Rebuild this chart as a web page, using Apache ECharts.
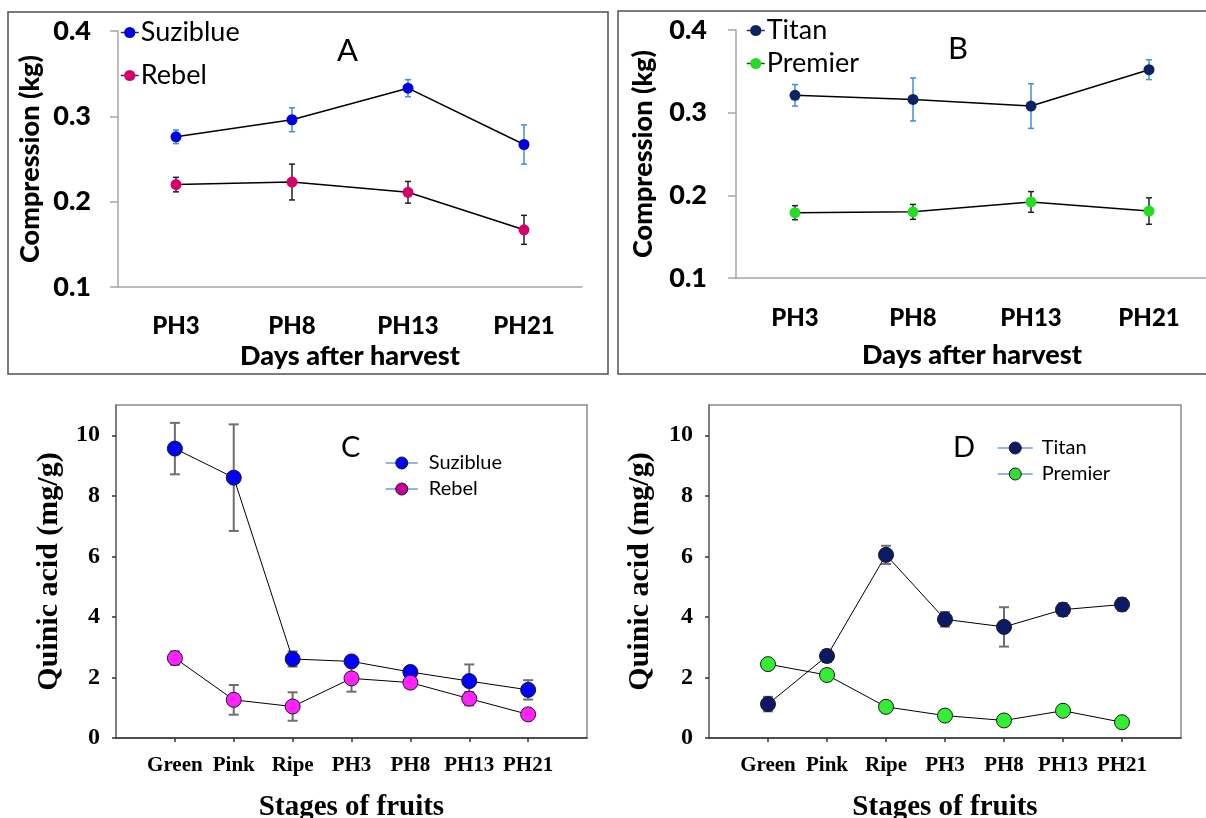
<!DOCTYPE html>
<html>
<head>
<meta charset="utf-8">
<title>Compression and quinic acid</title>
<script src="https://cdn.jsdelivr.net/npm/echarts@6/dist/echarts.min.js"></script>
<style>
  html, body { margin: 0; padding: 0; background: #fff; }
  #chart { width: 1206px; height: 818px; }
</style>
</head>
<body>
<div id="chart"></div>
<script>
// 采后天数 (A, B)
const daysCats = ['PH3', 'PH8', 'PH13', 'PH21'];
const suziComp = [0.276, 0.296, 0.333, 0.267];
const suziCompErr = [0.008, 0.014, 0.010, 0.023];
const rebelComp = [0.220, 0.223, 0.211, 0.167];
const rebelCompErr = [0.0085, 0.021, 0.0127, 0.017];
const titanComp = [0.321, 0.316, 0.308, 0.352];
const titanCompErr = [0.013, 0.026, 0.027, 0.012];
const premierComp = [0.179, 0.180, 0.192, 0.181];
const premierCompErr = [0.0085, 0.009, 0.0125, 0.016];
const compTicks = [0.1, 0.2, 0.3, 0.4];

// 果实阶段 (C, D)
const stageCats = ['Green', 'Pink', 'Ripe', 'PH3', 'PH8', 'PH13', 'PH21'];
const suziQuinic = [9.56, 8.60, 2.61, 2.53, 2.18, 1.88, 1.59];
const suziQuinicErr = [0.85, 1.76, 0.25, 0.10, 0.08, 0.55, 0.32];
const rebelQuinic = [2.64, 1.26, 1.04, 1.97, 1.83, 1.30, 0.78];
const rebelQuinicErr = [0.22, 0.49, 0.47, 0.44, 0.08, 0.22, 0.07];
const titanQuinic = [1.12, 2.71, 6.05, 3.92, 3.67, 4.24, 4.41];
const titanQuinicErr = [0.24, 0.20, 0.30, 0.24, 0.65, 0.21, 0.20];
const premierQuinic = [2.44, 2.08, 1.03, 0.74, 0.58, 0.90, 0.52];
const premierQuinicErr = [0.07, 0.08, 0.17, 0.07, 0.08, 0.13, 0.07];
const quinicTicks = [0, 2, 4, 6, 8, 10];

const sans = 'Lato';
const serif = 'Liberation Serif';
const heavy = 900;
const stagePos = stageCats.map((c, i) => i + 1);
const dayPos = daysCats.map((c, i) => i);

// 误差线
function errBar(xi, yi, xs, vals, errs, color, width, cap) {
    return {
        type: 'custom',
        xAxisIndex: xi,
        yAxisIndex: yi,
        z: 1,
        silent: true,
        data: vals.map((v, i) => [xs[i], v, errs[i]]),
        renderItem: function (params, api) {
            const top = api.coord([api.value(0), api.value(1) + api.value(2)]);
            const bot = api.coord([api.value(0), api.value(1) - api.value(2)]);
            const st = { stroke: color, lineWidth: width };
            return {
                type: 'group',
                children: [
                    { type: 'line', shape: { x1: top[0], y1: top[1], x2: bot[0], y2: bot[1] }, style: st },
                    { type: 'line', shape: { x1: top[0] - cap, y1: top[1], x2: top[0] + cap, y2: top[1] }, style: st },
                    { type: 'line', shape: { x1: bot[0] - cap, y1: bot[1], x2: bot[0] + cap, y2: bot[1] }, style: st }
                ]
            };
        }
    };
}

function lineSeries(name, xi, yi, xs, vals, color, size, border) {
    return {
        name: name,
        type: 'line',
        xAxisIndex: xi,
        yAxisIndex: yi,
        z: 3,
        data: vals.map((v, i) => [xs[i], v]),
        symbol: 'circle',
        symbolSize: size,
        lineStyle: { color: '#000', width: border ? 1 : 1.5 },
        itemStyle: border ? { color: color, borderColor: '#1a1a1a', borderWidth: 1 } : { color: color, borderWidth: 0 },
        emphasis: { disabled: true },
        animation: false
    };
}

// A/B 坐标轴
function compX(idx, labelMargin, nameGap) {
    return {
        type: 'category', gridIndex: idx, data: daysCats,
        axisLine: { lineStyle: { color: '#a6a6a6', width: 1.5 } },
        axisTick: { length: 10, lineStyle: { color: '#a6a6a6', width: 1.5 } },
        axisLabel: { margin: labelMargin, color: '#000', fontFamily: sans, fontWeight: heavy, fontSize: 24 },
        name: 'Days after harvest', nameLocation: 'middle', nameGap: nameGap,
        nameTextStyle: { color: '#000', fontFamily: sans, fontWeight: heavy, fontSize: 27 }
    };
}
function compY(idx, labelMargin, nameGap) {
    return {
        type: 'value', gridIndex: idx, min: 0.1, max: 0.4, interval: 0.1,
        axisLine: { show: true, lineStyle: { color: '#a6a6a6', width: 1.5 } },
        axisTick: { show: true, length: 8, lineStyle: { color: '#a6a6a6', width: 1.5 } },
        splitLine: { show: false },
        axisLabel: { margin: labelMargin, color: '#000', fontFamily: sans, fontWeight: heavy, fontSize: 27,
            formatter: v => compTicks.find(t => Math.abs(t - v) < 1e-6).toFixed(1) },
        name: 'Compression (kg)', nameLocation: 'middle', nameGap: nameGap,
        nameTextStyle: { color: '#000', fontFamily: sans, fontWeight: heavy, fontSize: 27 }
    };
}
// C/D 坐标轴
function stageX(idx) {
    return {
        type: 'value', gridIndex: idx, min: 0, max: 8, interval: 1,
        splitLine: { show: false },
        axisLine: { onZero: false, lineStyle: { color: '#333', width: 1.5 } },
        axisTick: { length: 4, customValues: stagePos, lineStyle: { color: '#333', width: 1.5 } },
        axisLabel: { margin: 17, customValues: stagePos, color: '#000', fontFamily: serif, fontWeight: 'bold', fontSize: 21,
            formatter: v => stageCats[v - 1] || '' },
        name: 'Stages of fruits', nameLocation: 'middle', nameGap: 55,
        nameTextStyle: { color: '#000', fontFamily: serif, fontWeight: 'bold', fontSize: 29 }
    };
}
function stageY(idx, nameGap) {
    return {
        type: 'value', gridIndex: idx, min: 0, max: 11, interval: 2,
        splitLine: { show: false },
        axisLine: { show: true, lineStyle: { color: '#707070', width: 1.5 } },
        axisTick: { show: true, length: 4, customValues: quinicTicks, lineStyle: { color: '#333', width: 1.5 } },
        axisLabel: { margin: 16, customValues: quinicTicks, color: '#000', fontFamily: serif, fontWeight: 'bold', fontSize: 24 },
        name: 'Quinic acid (mg/g)', nameLocation: 'middle', nameGap: nameGap,
        nameTextStyle: { color: '#000', fontFamily: serif, fontWeight: 'bold', fontSize: 30 }
    };
}

const errBlue = '#3d8fdb';
const errGrey = '#6e6e6e';
const legLine = '#6a9fd8';

const chart = echarts.init(document.getElementById('chart'), null, { renderer: 'canvas' });
chart.setOption({
    animation: false,
    backgroundColor: '#fff',
    title: [
        { text: 'A', left: 337, top: 35, padding: 0, textStyle: { fontFamily: sans, fontWeight: 'normal', fontSize: 31, color: '#000' } },
        { text: 'B', left: 948, top: 33, padding: 0, textStyle: { fontFamily: sans, fontWeight: 'normal', fontSize: 31, color: '#000' } },
        { text: 'C', left: 341, top: 433, padding: 0, textStyle: { fontFamily: sans, fontWeight: 'normal', fontSize: 29, color: '#000' } },
        { text: 'D', left: 953, top: 433, padding: 0, textStyle: { fontFamily: sans, fontWeight: 'normal', fontSize: 29, color: '#000' } }
    ],
    graphic: [
        { type: 'rect', shape: { x: 8, y: 12, width: 600, height: 362 }, style: { fill: 'none', stroke: '#505050', lineWidth: 1.5 }, silent: true },
        { type: 'rect', shape: { x: 618, y: 11, width: 600, height: 363 }, style: { fill: 'none', stroke: '#505050', lineWidth: 1.5 }, silent: true }
    ],
    legend: [
        {
            orient: 'vertical', left: 120, top: 19, itemWidth: 18, itemHeight: 14, itemGap: 16, padding: 0,
            textStyle: { fontFamily: sans, fontSize: 27, color: '#000', padding: [0, 0, 0, -3] },
            data: [
                { name: 'Suziblue', itemStyle: { color: '#0000e0', borderWidth: 0 }, lineStyle: { color: '#333', width: 1.5 } },
                { name: 'Rebel', itemStyle: { color: '#d4006e', borderWidth: 0 }, lineStyle: { color: '#333', width: 1.5 } }
            ]
        },
        {
            orient: 'vertical', left: 746, top: 17, itemWidth: 18, itemHeight: 14, itemGap: 6, padding: 0,
            textStyle: { fontFamily: sans, fontSize: 27, color: '#000', padding: [0, 0, 0, -3] },
            data: [
                { name: 'Titan', itemStyle: { color: '#0b2265', borderWidth: 0 }, lineStyle: { color: '#333', width: 1.5 } },
                { name: 'Premier', itemStyle: { color: '#22dd22', borderWidth: 0 }, lineStyle: { color: '#333', width: 1.5 } }
            ]
        },
        {
            orient: 'vertical', left: 385, top: 453, itemWidth: 32, itemHeight: 15, itemGap: 6, padding: 0,
            textStyle: { fontFamily: sans, fontSize: 20, color: '#000', padding: [0, 0, 0, 6] },
            data: [
                { name: 'Suziblue', itemStyle: { color: '#0000ff', borderColor: '#1a1a1a', borderWidth: 1 }, lineStyle: { color: legLine, width: 1.5 } },
                { name: 'Rebel', itemStyle: { color: '#cc0099', borderColor: '#1a1a1a', borderWidth: 1 }, lineStyle: { color: legLine, width: 1.5 } }
            ]
        },
        {
            orient: 'vertical', left: 997, top: 438, itemWidth: 35, itemHeight: 15, itemGap: 6, padding: 0,
            textStyle: { fontFamily: sans, fontSize: 20, color: '#000', padding: [0, 0, 0, 4] },
            data: [
                { name: 'Titan', itemStyle: { color: '#0a1a66', borderColor: '#1a1a1a', borderWidth: 1 }, lineStyle: { color: legLine, width: 1.5 } },
                { name: 'Premier', itemStyle: { color: '#33dd33', borderColor: '#1a1a1a', borderWidth: 1 }, lineStyle: { color: legLine, width: 1.5 } }
            ]
        }
    ],
    grid: [
        { left: 118, top: 31, width: 464, height: 256, outerBoundsMode: 'none' },
        { left: 736, top: 30, width: 472, height: 248, outerBoundsMode: 'none' },
        { left: 116, top: 405, width: 471, height: 333, outerBoundsMode: 'none', show: true, borderColor: '#8a8a8a', borderWidth: 1.5, backgroundColor: 'transparent' },
        { left: 709, top: 405, width: 472, height: 333, outerBoundsMode: 'none', show: true, borderColor: '#8a8a8a', borderWidth: 1.5, backgroundColor: 'transparent' }
    ],
    xAxis: [compX(0, 27, 56), compX(1, 28, 64), stageX(2), stageX(3)],
    yAxis: [compY(0, 27, 74), compY(1, 29, 79), stageY(2, 52), stageY(3, 54)],
    series: [
        errBar(0, 0, dayPos, suziComp, suziCompErr, errBlue, 1.5, 3),
        errBar(0, 0, dayPos, rebelComp, rebelCompErr, '#222', 1.5, 3),
        lineSeries('Suziblue', 0, 0, dayPos, suziComp, '#0000e0', 11, false),
        lineSeries('Rebel', 0, 0, dayPos, rebelComp, '#d4006e', 11, false),

        errBar(1, 1, dayPos, titanComp, titanCompErr, errBlue, 1.5, 3),
        errBar(1, 1, dayPos, premierComp, premierCompErr, '#222', 1.5, 3),
        lineSeries('Titan', 1, 1, dayPos, titanComp, '#0b2265', 11, false),
        lineSeries('Premier', 1, 1, dayPos, premierComp, '#22dd22', 11, false),

        errBar(2, 2, stagePos, suziQuinic, suziQuinicErr, errGrey, 2, 5),
        errBar(2, 2, stagePos, rebelQuinic, rebelQuinicErr, errGrey, 2, 5),
        lineSeries('Suziblue', 2, 2, stagePos, suziQuinic, '#0000ff', 15, true),
        lineSeries('Rebel', 2, 2, stagePos, rebelQuinic, '#ff22ff', 15, true),

        errBar(3, 3, stagePos, titanQuinic, titanQuinicErr, errGrey, 2, 5),
        errBar(3, 3, stagePos, premierQuinic, premierQuinicErr, errGrey, 2, 5),
        lineSeries('Titan', 3, 3, stagePos, titanQuinic, '#0a1a66', 15, true),
        lineSeries('Premier', 3, 3, stagePos, premierQuinic, '#33ee33', 15, true)
    ]
});
</script>
</body>
</html>
